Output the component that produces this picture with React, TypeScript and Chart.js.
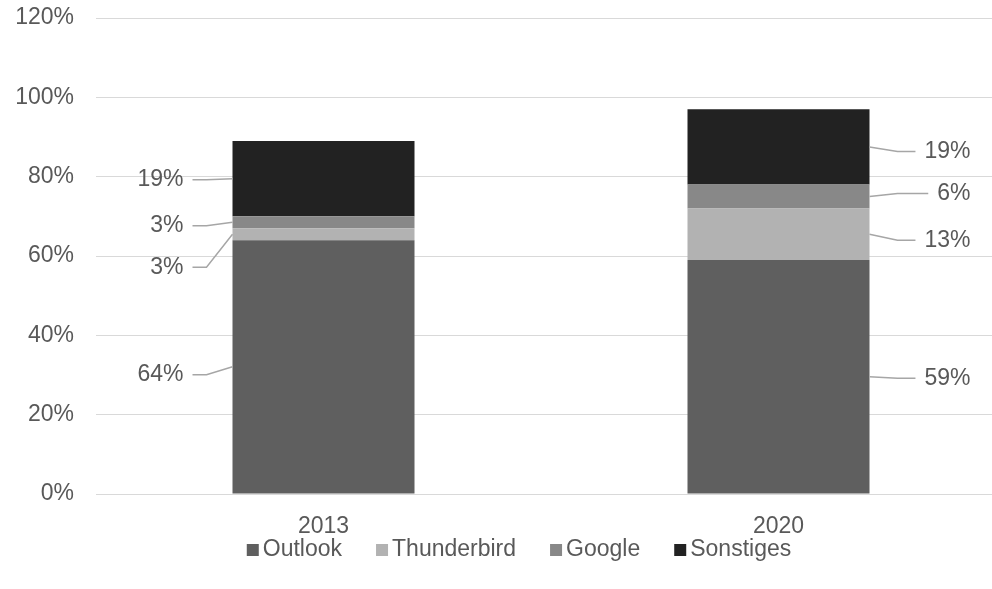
import React, { useEffect, useRef } from "react";
import { Chart, registerables } from "chart.js";

Chart.register(...registerables);

const categories = ["2013", "2020"];
const seriesNames = ["Outlook", "Thunderbird", "Google", "Sonstiges"];
const outlook = [64, 59];
const thunderbird = [3, 13];
const google = [3, 6];
const sonstiges = [19, 19];
const yTicks = [0, 20, 40, 60, 80, 100, 120];

const COLORS = ["#5f5f5f", "#b2b2b2", "#888888", "#222222"];
const TEXT = "#595959";
const FONT = "Liberation Sans, Arial, sans-serif";
const FS = 23;
// label vertical offsets from segment center, per dataset per category (style only)
const LABEL_DY = [
  [8, 1.5],
  [33, 6],
  [3.5, -3],
  [1, 4.5],
];

const labelPlugin = {
  id: "leaderLabels",
  afterDatasetsDraw(chart: any) {
    const ctx = chart.ctx;
    ctx.save();
    ctx.font = `${FS}px ${FONT}`;
    ctx.textBaseline = "middle";
    chart.data.datasets.forEach((ds: any, di: number) => {
      const meta = chart.getDatasetMeta(di);
      meta.data.forEach((bar: any, j: number) => {
        const p = bar.getProps(["x", "y", "base", "width"], true);
        const yc = (p.y + p.base) / 2;
        const ly = yc + LABEL_DY[di][j];
        const txt = ds.data[j] + "%";
        const tw = ctx.measureText(txt).width;
        ctx.strokeStyle = "#a6a6a6";
        ctx.lineWidth = 1.5;
        ctx.beginPath();
        if (j === 0) {
          const bx = p.x - p.width / 2;
          const textRight = bx - 49;
          ctx.moveTo(bx, yc);
          ctx.lineTo(bx - 26, ly);
          ctx.lineTo(textRight + 9, ly);
          ctx.stroke();
          ctx.fillStyle = TEXT;
          ctx.textAlign = "right";
          ctx.fillText(txt, textRight, ly);
        } else {
          const bx = p.x + p.width / 2;
          const textRight = bx + 101;
          ctx.moveTo(bx, yc);
          ctx.lineTo(bx + 28, ly);
          ctx.lineTo(textRight - tw - 9, ly);
          ctx.stroke();
          ctx.fillStyle = TEXT;
          ctx.textAlign = "right";
          ctx.fillText(txt, textRight, ly);
        }
      });
    });
    ctx.restore();
  },
};

const legendPlugin = {
  id: "customLegend",
  afterDraw(chart: any) {
    const ctx = chart.ctx;
    ctx.save();
    ctx.font = `${FS}px ${FONT}`;
    ctx.textBaseline = "middle";
    ctx.textAlign = "left";
    const box = 12;
    const gap = 4;
    const spacing = 34;
    const widths = seriesNames.map((n) => box + gap + ctx.measureText(n).width);
    const total = widths.reduce((a, b) => a + b, 0) + spacing * (seriesNames.length - 1);
    let x = 519 - total / 2;
    const y = 550;
    seriesNames.forEach((n, i) => {
      ctx.fillStyle = COLORS[i];
      ctx.fillRect(x, y - box / 2, box, box);
      ctx.fillStyle = TEXT;
      ctx.fillText(n, x + box + gap, y);
      x += widths[i] + spacing;
    });
    ctx.restore();
  },
};

export default function App() {
  const ref = useRef<HTMLCanvasElement>(null);
  useEffect(() => {
    if (!ref.current) return;
    const seriesData = [outlook, thunderbird, google, sonstiges];
    const chart = new Chart(ref.current, {
      type: "bar",
      data: {
        labels: categories,
        datasets: seriesNames.map((name, i) => ({
          label: name,
          data: seriesData[i],
          backgroundColor: COLORS[i],
          borderWidth: 0,
          categoryPercentage: 1,
          barPercentage: 0.4,
        })),
      },
      options: {
        animation: false,
        responsive: false,
        layout: { autoPadding: false, padding: { top: 18, right: 0, bottom: 50, left: 0 } },
        plugins: { legend: { display: false }, tooltip: { enabled: false } },
        scales: {
          x: {
            stacked: true,
            grid: { display: false, drawTicks: false },
            border: { display: false },
            ticks: { color: TEXT, font: { family: FONT, size: FS }, padding: 19 },
            afterFit: (s: any) => {
              s.height = 45;
              s.paddingLeft = 0;
              s.paddingRight = 0;
            },
          },
          y: {
            stacked: true,
            min: 0,
            max: 120,
            afterBuildTicks: (s: any) => {
              s.ticks = yTicks.map((v) => ({ value: v }));
            },
            grid: { color: "#d9d9d9", lineWidth: 1, drawTicks: false },
            border: { display: false },
            ticks: {
              color: TEXT,
              font: { family: FONT, size: FS },
              padding: 22,
              callback: (v: any) => v + "%",
            },
            afterFit: (s: any) => {
              s.width = 96;
              s.paddingTop = 0;
              s.paddingBottom = 0;
            },
          },
        },
      },
      plugins: [labelPlugin, legendPlugin],
    });
    return () => chart.destroy();
  }, []);
  return (
    <div style={{ position: "absolute", left: 0, top: 0, width: 992, height: 589, overflow: "hidden", background: "#fff" }}>
      <canvas ref={ref} width={1006} height={589} style={{ display: "block" }} />
    </div>
  );
}
